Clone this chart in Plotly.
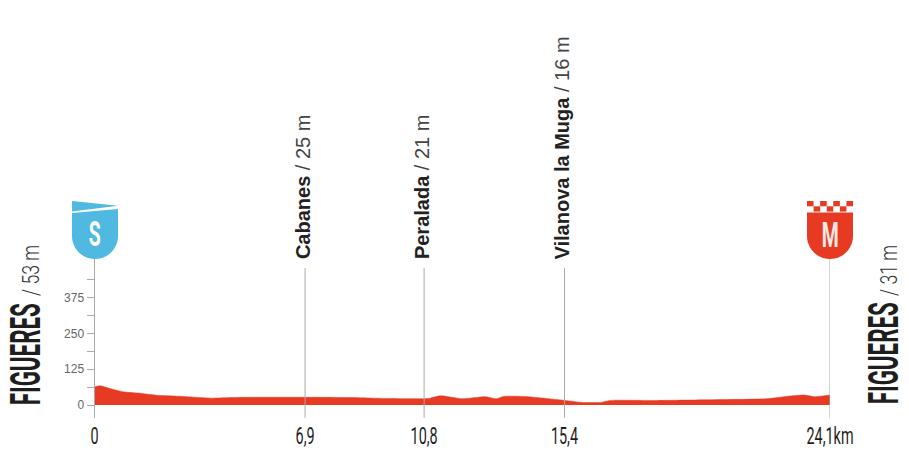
import json
import math
import plotly.graph_objects as go

W, H = 909, 472

# --- data ---
profile_km = [0, 0.18, 0.5, 0.95, 1.49, 2.04, 2.91, 3.89, 4.44, 5.1, 6.85, 8.38, 9.13, 10.78, 11.0, 11.33,
              11.6, 12.04, 12.8, 13.17, 13.4, 14.06, 14.8, 15.42, 16.0, 16.57, 16.9, 18.43, 20.6, 22.04,
              22.59, 23.24, 23.62, 24.1]
profile_m = [63, 67, 58, 46, 41, 34, 30, 24, 26, 27, 27, 26, 24, 22, 24, 32,
             29, 22, 29, 22, 30, 30, 23, 16, 9, 9, 16, 16, 19, 22,
             29, 35, 29, 35]
tick_km = [0, 6.9, 10.8, 15.4, 24.1]
tick_km_labels = ["0", "6,9", "10,8", "15,4", "24,1km"]
tick_m = [0, 125, 250, 375]
minor_tick_m = [62.5, 187.5, 312.5, 437.5]
way_km = [6.9, 10.8, 15.4]
way_names = ["Cabanes", "Peralada", "Vilanova la Muga"]
way_alts = ["25 m", "21 m", "16 m"]
start_name, start_alt = "FIGUERES", "53 m"
finish_name, finish_alt = "FIGUERES", "31 m"

RED = "#E63A22"
BLUE = "#4FB9E1"
DARK = "#1E1E1E"
GREY = "#A9A9A9"
COND = "Roboto"
SANS = "Liberation Sans"

def px(x):
    return x / W

def py(y):
    return 1 - y / H

def path(points):
    return "M " + " L ".join(f"{px(x):.5f},{py(y):.5f}" for x, y in points) + " Z"

def shield_body(cx, top_left, top_right):
    pts = [(cx - 23, top_left), (cx + 23, top_right), (cx + 23, 236)]
    for i in range(1, 24):
        a = math.pi * i / 24
        pts.append((cx + 23 * math.cos(a), 236 + 23 * math.sin(a)))
    pts.append((cx - 23, 236))
    return pts

fig = go.Figure()
fig.add_trace(go.Scatter(x=profile_km, y=profile_m, mode="lines", fill="tozeroy", line_shape="spline",
                         fillcolor=RED, line=dict(color=RED, width=0.5, smoothing=0.6),
                         hoverinfo="skip", showlegend=False))

# vertical guides
gx, gy = [], []
for k in way_km:
    gx += [k, k, None]
    gy += [-45, 478, None]
gx += [24.1, 24.1]
gy += [-45, 510]
fig.add_trace(go.Scatter(x=gx, y=gy, mode="lines", line=dict(color=GREY, width=1),
                         hoverinfo="skip", showlegend=False))

shapes = [
    dict(type="path", xref="paper", yref="paper", line_width=0, fillcolor=BLUE,
         path=path([(72, 201), (118, 205.7), (72, 211.5)])),
    dict(type="path", xref="paper", yref="paper", line_width=0, fillcolor=BLUE,
         path=path(shield_body(95, 213, 209))),
    dict(type="path", xref="paper", yref="paper", line_width=0, fillcolor=RED,
         path=path(shield_body(830, 212.5, 212.5))),
]
cell = 46 / 7
for row in range(2):
    for col in range(7):
        if (row + col) % 2 == 0:
            x0 = 807 + col * cell
            y0 = 201 + row * 5.3
            shapes.append(dict(type="rect", xref="paper", yref="paper", line_width=0, fillcolor=RED,
                               x0=px(x0), x1=px(x0 + cell), y0=py(y0), y1=py(y0 + 5.3)))

ann = []
for k, n, a in zip(way_km, way_names, way_alts):
    ann.append(dict(x=k, xref="x", xshift=-2, y=py(261.5), yref="paper", yanchor="bottom", xanchor="center",
                    textangle=-90, showarrow=False,
                    text=f"<b>{n}</b><span style=\"color:#444444\"> / {a}</span>",
                    font=dict(family=SANS, size=20, color="#222222")))

def side(xname, yname, xalt, yalt, name, alt):
    ann.append(dict(x=px(xname), xref="paper", y=py(yname), yref="paper", textangle=-90, showarrow=False,
                    xanchor="center", yanchor="middle",
                    text=f"<b>{name}</b>", font=dict(family=COND, size=42, color=DARK)))
    ann.append(dict(x=px(xalt), xref="paper", y=py(yalt), yref="paper", textangle=-90, showarrow=False,
                    xanchor="center", yanchor="middle",
                    text=f"/ {alt}", font=dict(family=COND, size=24, weight=300, color="#333333")))

side(25, 354, 30.5, 270.5, start_name, start_alt)
side(883, 353, 888.5, 270.5, finish_name, finish_alt)
ann.append(dict(x=px(95), xref="paper", y=py(234), yref="paper", showarrow=False, text="<b>S</b>",
                xanchor="center", yanchor="middle",
                font=dict(family=COND, size=35, color="white")))
ann.append(dict(x=px(830), xref="paper", y=py(235), yref="paper", showarrow=False, text="<b>M</b>",
                xanchor="center", yanchor="middle",
                font=dict(family=COND, size=35, color="#F8E9E4")))

m_per_px = 1 / 0.2864
fig.update_layout(
    width=W, height=H, autosize=False,
    margin=dict(l=0, r=0, t=0, b=0, autoexpand=False),
    paper_bgcolor="white", plot_bgcolor="white",
    showlegend=False, shapes=shapes, annotations=ann,
    xaxis=dict(domain=[px(94.5), px(830)], range=[0, 24.1], tickmode="array", tickvals=tick_km,
               ticktext=tick_km_labels, ticks="", showgrid=False, zeroline=False, showline=False,
               tickfont=dict(family=COND, size=24, color=DARK), ticklabelstandoff=1),
    yaxis=dict(domain=[py(418), py(258)], range=[-13 * m_per_px, 147 * m_per_px], tickmode="array",
               tickvals=tick_m, ticks="outside", ticklen=7, tickwidth=1, tickcolor=GREY,
               showgrid=False, zeroline=False, showline=True, linecolor=GREY, linewidth=1,
               tickfont=dict(family=SANS, size=12, color="#666666"),
               minor=dict(tickmode="array", tickvals=minor_tick_m, ticks="outside", ticklen=7,
                          tickwidth=1, tickcolor=GREY, showgrid=False)),
)

# The reference lettering is a tall condensed face: narrow the Roboto text to those widths.
widths = {"FIGUERES": 102, f"/ {start_alt}": 51, f"/ {finish_alt}": 51, "S": 12, "M": 17}
post = """
document.body.style.margin = '0';
const widths = %s;
const narrow = (t, f) => {
  const b = t.getBBox();
  const c = b.x + b.width / 2;
  const old = t.getAttribute('transform') || '';
  t.setAttribute('transform', `${old} translate(${c},0) scale(${f},1) translate(${-c},0)`);
};
document.querySelectorAll('text.annotation-text').forEach(t => {
  const w = widths[t.textContent];
  if (w) narrow(t, w / t.getBBox().width);
});
document.querySelectorAll('.xtick text').forEach(t => narrow(t, 0.6));
""" % json.dumps(widths)
fig.write_html("out.html", post_script=post, config={"displayModeBar": False})
